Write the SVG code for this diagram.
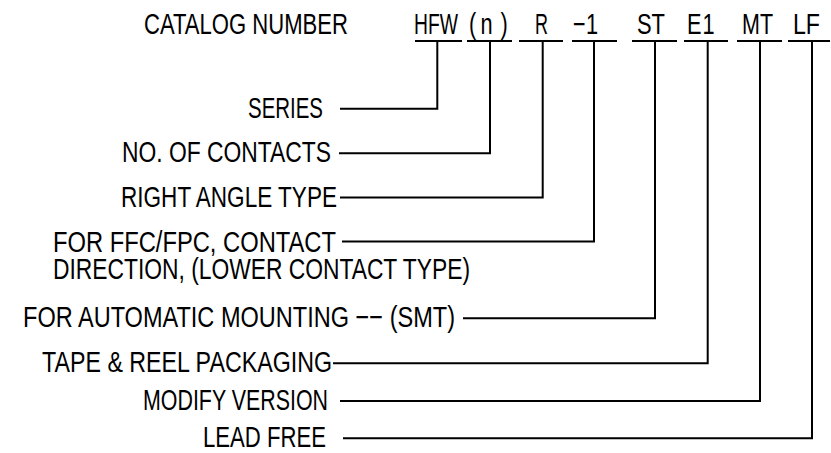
<svg xmlns="http://www.w3.org/2000/svg" width="831" height="453" viewBox="0 0 831 453">
<style>
text{font-family:"Liberation Sans",Arial,sans-serif;font-size:29px;fill:#000;}
.ln{fill:none;stroke:#000;stroke-width:2;}
</style>
<rect width="831" height="453" fill="#fff"/>
<g id="header">
<text x="144" y="34" textLength="204" lengthAdjust="spacingAndGlyphs">CATALOG NUMBER</text>
<text x="414" y="34" textLength="44" lengthAdjust="spacingAndGlyphs">HFW</text>
<text transform="translate(469,34) scale(0.75,1)" x="0 15.3 42" y="0">(n)</text>
<text x="535" y="34" textLength="13" lengthAdjust="spacingAndGlyphs">R</text>
<text transform="translate(573,34) scale(0.75,1)" x="0 17.3" y="0">−1</text>
<text x="637" y="34" textLength="28" lengthAdjust="spacingAndGlyphs">ST</text>
<text transform="translate(687,34) scale(0.75,1)" x="0 20.7" y="0">E1</text>
<text x="742" y="34" textLength="31" lengthAdjust="spacingAndGlyphs">MT</text>
<text x="793" y="34" textLength="27" lengthAdjust="spacingAndGlyphs">LF</text>
<path class="ln" d="M415,41H462M467,41H512M519,41H563M572,41H617M632,41H677M684,41H728M737,41H782M788,41H830"/>
</g>
<g id="series"><text x="248" y="118" textLength="75" lengthAdjust="spacingAndGlyphs">SERIES</text></g>
<g id="contacts"><text x="122" y="162" textLength="209" lengthAdjust="spacingAndGlyphs">NO. OF CONTACTS</text></g>
<g id="rightangle"><text x="121" y="207" textLength="216" lengthAdjust="spacingAndGlyphs">RIGHT ANGLE TYPE</text></g>
<g id="direction">
<text x="53" y="252" textLength="283" lengthAdjust="spacingAndGlyphs">FOR FFC/FPC, CONTACT</text>
<text x="53" y="279" textLength="417" lengthAdjust="spacingAndGlyphs">DIRECTION, (LOWER CONTACT TYPE)</text>
</g>
<g id="smt"><text x="23" y="327" textLength="432" lengthAdjust="spacingAndGlyphs">FOR AUTOMATIC MOUNTING −− (SMT)</text></g>
<g id="tape"><text x="42" y="372" textLength="290" lengthAdjust="spacingAndGlyphs">TAPE &amp; REEL PACKAGING</text></g>
<g id="modify"><text x="143" y="410" textLength="185" lengthAdjust="spacingAndGlyphs">MODIFY VERSION</text></g>
<g id="leadfree"><text x="203" y="447" textLength="123" lengthAdjust="spacingAndGlyphs">LEAD FREE</text></g>
<g id="connectors">
<path class="ln" d="M340,108.7H437.3V41"/>
<path class="ln" d="M339,153.3H490V41"/>
<path class="ln" d="M340,197.5H542.7V41"/>
<path class="ln" d="M342,241.5H594V41"/>
<path class="ln" d="M463,318.3H655V41"/>
<path class="ln" d="M333,363.3H707.7V41"/>
<path class="ln" d="M340,401H760V41"/>
<path class="ln" d="M343,438.3H812V41"/>
</g>
</svg>
